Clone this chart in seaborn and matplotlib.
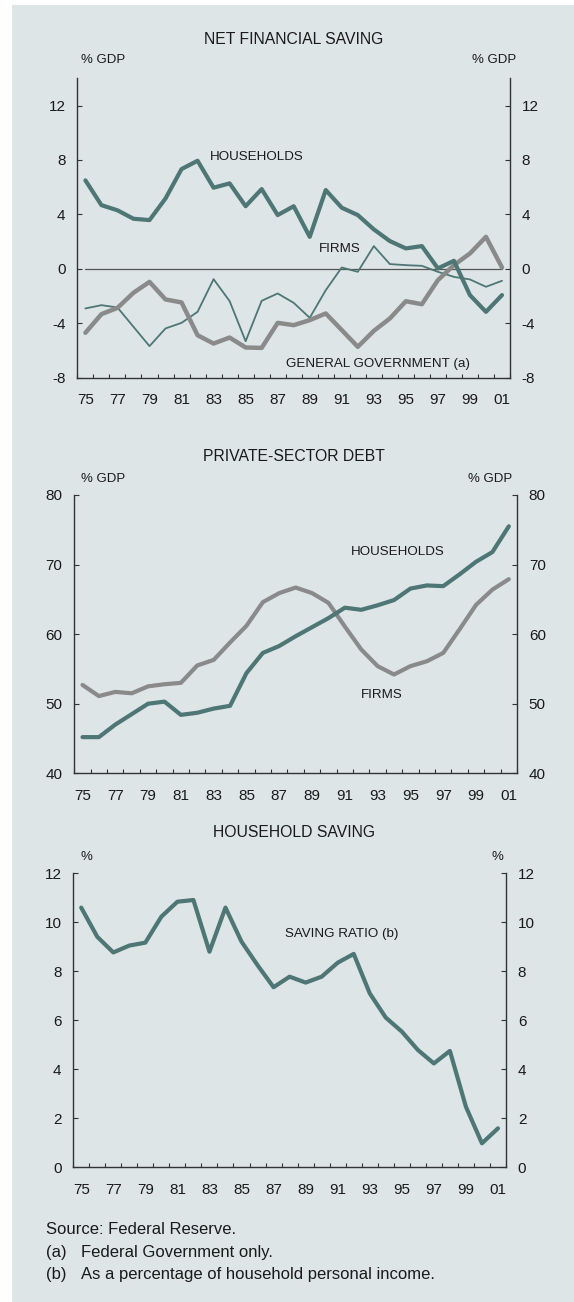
import numpy as np
import pandas as pd
import matplotlib
matplotlib.use("Agg")
import matplotlib.pyplot as plt
from matplotlib.patches import Rectangle
import seaborn as sns

# Data
years = list(range(1975, 2002))

nfs_households = [6.5, 4.68, 4.3, 3.68, 3.58, 5.17, 7.33, 7.94, 5.96, 6.28, 4.6, 5.86, 3.95, 4.6,
                  2.35, 5.79, 4.49, 3.95, 2.9, 2.04, 1.5, 1.67, 0.03, 0.59, -1.93, -3.16, -1.93]
nfs_firms = [-2.91, -2.67, -2.84, -4.26, -5.68, -4.38, -3.97, -3.16, -0.76, -2.37, -5.32, -2.35, -1.81,
             -2.5, -3.6, -1.57, 0.1, -0.22, 1.67, 0.35, 0.27, 0.22, -0.22, -0.59, -0.78, -1.32, -0.88]
nfs_government = [-4.7, -3.33, -2.87, -1.76, -0.96, -2.25, -2.47, -4.88, -5.49, -5.05, -5.78, -5.81,
                  -3.97, -4.14, -3.77, -3.28, -4.5, -5.73, -4.56, -3.65, -2.38, -2.6, -0.83, 0.27,
                  1.13, 2.35, 0.1]

debt_households = [45.2, 45.2, 47.0, 48.5, 50.0, 50.3, 48.4, 48.7, 49.3, 49.7, 54.4, 57.3, 58.3, 59.7,
                   61.0, 62.3, 63.8, 63.5, 64.15, 64.9, 66.55, 67.0, 66.9, 68.6, 70.4, 71.8, 75.5]
debt_firms = [52.7, 51.1, 51.7, 51.5, 52.5, 52.8, 53.0, 55.5, 56.3, 58.8, 61.2, 64.6, 65.9, 66.7,
              65.9, 64.5, 61.1, 57.8, 55.4, 54.2, 55.4, 56.1, 57.3, 60.7, 64.2, 66.4, 67.9]

saving_ratio = [10.6, 9.41, 8.77, 9.05, 9.17, 10.23, 10.84, 10.91, 8.8, 10.6, 9.21, 8.25, 7.35, 7.78,
                7.54, 7.78, 8.35, 8.71, 7.1, 6.11, 5.54, 4.79, 4.24, 4.75, 2.47, 0.98, 1.59]

year_labels = ["75", "77", "79", "81", "83", "85", "87", "89", "91", "93", "95", "97", "99", "01"]

TEAL = "#4e7675"
GREY = "#8a8a8a"
BG = "#dde5e7"
INK = "#1a1a1a"

sns.set_theme(style="ticks")
plt.rcParams["font.family"] = ["Liberation Sans", "DejaVu Sans"]

W, H = 574, 1302
fig = plt.figure(figsize=(W / 100, H / 100), dpi=100)
fig.patches.append(Rectangle((12 / W, 0), 1, (H - 5) / H, transform=fig.transFigure,
                             facecolor=BG, edgecolor="none", zorder=-10))


def box(l, r, t, b):
    return [l / W, 1 - b / H, (r - l) / W, (b - t) / H]


def ftext(x, y, s, size=9.6, ha="left"):
    fig.text(x / W, 1 - y / H, s, ha=ha, va="center", fontsize=size, color=INK)


def style_axis(ax, ylim, yticks):
    ax.set_facecolor("none")
    ax.set_xlim(1974.5, 2001.5)
    ax.set_ylim(*ylim)
    ax.set_yticks(yticks)
    ax.set_yticklabels([str(v) for v in yticks])
    ax.set_xticks(list(range(1975, 2002, 2)))
    ax.set_xticklabels(year_labels)
    ax.set_xticks(np.arange(1974.5, 2001.6, 1), minor=True)
    ax.tick_params(axis="x", which="major", length=0, pad=11, labelsize=11, colors=INK)
    ax.tick_params(axis="x", which="minor", direction="in", length=3, width=0.8, color="#333333")
    ax.tick_params(axis="y", which="major", direction="in", length=3.5, width=0.8, pad=8.5,
                   labelsize=11, left=True, right=True, labelleft=True, labelright=True,
                   color="#333333", labelcolor=INK)
    for side in ["left", "right", "bottom"]:
        ax.spines[side].set_visible(True)
        ax.spines[side].set_color("#333333")
        ax.spines[side].set_linewidth(1)
    ax.spines["top"].set_visible(False)
    ax.set_xlabel("")
    ax.set_ylabel("")
    ax.grid(False)


# Panel 1: net financial saving
ax1 = fig.add_axes(box(77.4, 510, 78.3, 377.7))
df1 = pd.DataFrame({"year": years, "hh": nfs_households, "firms": nfs_firms, "gov": nfs_government})
ax1.axhline(0, xmin=0.5 / 27, xmax=26.5 / 27, color="#555555", lw=0.9, zorder=1)
sns.lineplot(data=df1, x="year", y="firms", ax=ax1, color=TEAL, lw=1.3, zorder=2)
sns.lineplot(data=df1, x="year", y="gov", ax=ax1, color=GREY, lw=3.2, zorder=3)
sns.lineplot(data=df1, x="year", y="hh", ax=ax1, color=TEAL, lw=3.0, zorder=4)
style_axis(ax1, (-8, 14), [-8, -4, 0, 4, 8, 12])

ftext(294, 39.5, "NET FINANCIAL SAVING", size=11.3, ha="center")
ftext(80.5, 60, "% GDP", size=9.5)
ftext(516, 60, "% GDP", size=9.5, ha="right")
ftext(210, 157, "HOUSEHOLDS")
ftext(319, 249, "FIRMS")
ftext(285.5, 364.3, "GENERAL GOVERNMENT (a)")

# Panel 2: private-sector debt
ax2 = fig.add_axes(box(74.3, 517, 495, 773.3))
df2 = pd.DataFrame({"year": years, "hh": debt_households, "firms": debt_firms})
sns.lineplot(data=df2, x="year", y="firms", ax=ax2, color=GREY, lw=3.0)
sns.lineplot(data=df2, x="year", y="hh", ax=ax2, color=TEAL, lw=3.0)
style_axis(ax2, (40, 80), [40, 50, 60, 70, 80])

ftext(294, 456.7, "PRIVATE-SECTOR DEBT", size=11.3, ha="center")
ftext(80.5, 479.3, "% GDP", size=9.5)
ftext(512, 479.3, "% GDP", size=9.5, ha="right")
ftext(350.7, 551.7, "HOUSEHOLDS")
ftext(360.5, 695, "FIRMS")

# Panel 3: household saving
ax3 = fig.add_axes(box(73.2, 506, 873.3, 1167.3))
df3 = pd.DataFrame({"year": years, "ratio": saving_ratio})
sns.lineplot(data=df3, x="year", y="ratio", ax=ax3, color=TEAL, lw=3.0)
style_axis(ax3, (0, 12), [0, 2, 4, 6, 8, 10, 12])

ftext(294.5, 832.7, "HOUSEHOLD SAVING", size=11.3, ha="center")
ftext(86, 857.3, "%", size=9.5, ha="center")
ftext(497, 857.3, "%", size=9.5, ha="center")
ftext(284.8, 934, "SAVING RATIO (b)")

# Footnotes
ftext(45.8, 1229.3, "Source: Federal Reserve.", size=12)
ftext(45.8, 1252.7, "(a)", size=12)
ftext(81.3, 1252.7, "Federal Government only.", size=12)
ftext(45.8, 1274.3, "(b)", size=12)
ftext(81.3, 1274.3, "As a percentage of household personal income.", size=12)

fig.savefig("out.png", dpi=100)
